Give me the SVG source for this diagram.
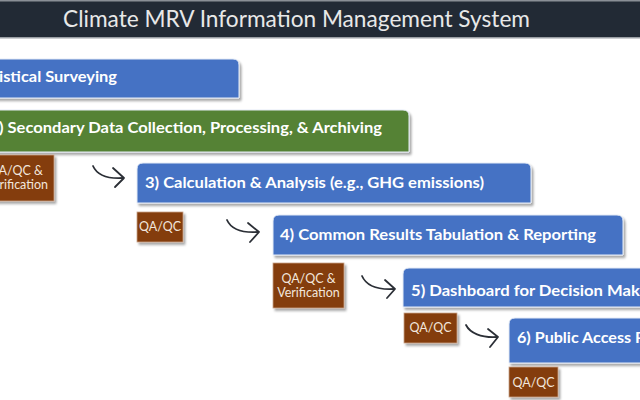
<svg xmlns="http://www.w3.org/2000/svg" width="640" height="400" viewBox="0 0 640 400">
  <defs>
    <filter id="sh" x="-5%" y="-20%" width="115%" height="160%">
      <feDropShadow dx="2" dy="2.5" stdDeviation="1.2" flood-color="#000" flood-opacity="0.35"/>
    </filter>
    <style>
      .step{stroke:#e6ecf6;stroke-width:1;filter:url(#sh)}
      .blue{fill:#4472C4}
      .green{fill:#548235}
      .qa{fill:#843C0C;stroke:#c9a38a;stroke-width:0.8;filter:url(#sh)}
      .st{font-family:Lato,"Liberation Sans",sans-serif;font-weight:bold;font-size:16px;fill:#ffffff}
      .qt{font-family:Lato,"Liberation Sans",sans-serif;font-size:12.5px;fill:#f2e6dc;text-anchor:middle}
      .title{font-family:Lato,"Liberation Sans",sans-serif;font-size:23px;fill:#e8e8e8}
      .arr{fill:none;stroke:#2b2f36;stroke-width:1.8;stroke-linecap:round;stroke-linejoin:round}
    </style>
  </defs>
  <rect x="0" y="0" width="640" height="400" fill="#ffffff"/>

  <g id="title">
    <rect x="0" y="0" width="640" height="38" fill="#222A35"/>
    <rect x="0" y="0" width="640" height="1.5" fill="#8a8f96"/>
    <rect x="0" y="37" width="640" height="1.5" fill="#9a9ea4"/>
    <text class="title" x="63" y="27" textLength="467" lengthAdjust="spacingAndGlyphs">Climate MRV Information Management System</text>
  </g>

  <g id="step1">
    <path class="step blue" d="M-10,59 H233 Q239,59 239,65 V98 H-10 Z"/>
    <text class="st" x="-1" y="82" textLength="118" lengthAdjust="spacingAndGlyphs">istical Surveying</text>
  </g>

  <g id="step2">
    <path class="step green" d="M-10,110 H403 Q409,110 409,116 V152 H-10 Z"/>
    <text class="st" x="-1" y="133" textLength="383" lengthAdjust="spacingAndGlyphs">) Secondary Data Collection, Processing, &amp; Archiving</text>
  </g>

  <g id="qa2">
    <rect class="qa" x="-20" y="155" width="74" height="46"/>
    <text class="qt" x="43" y="175" style="text-anchor:end">QA/QC &amp;</text>
    <text class="qt" x="48" y="189" style="text-anchor:end">rification</text>
  </g>

  <g id="step3">
    <path class="step blue" d="M137,169 Q137,163 143,163 H525 Q531,163 531,169 V203 H137 Z"/>
    <text class="st" x="145" y="188" textLength="339" lengthAdjust="spacingAndGlyphs">3) Calculation &amp; Analysis (e.g., GHG emissions)</text>
  </g>

  <g id="qa3">
    <rect class="qa" x="137" y="212" width="46" height="30"/>
    <text class="qt" x="160" y="231">QA/QC</text>
  </g>

  <g id="step4">
    <path class="step blue" d="M273,221 Q273,215 279,215 H617 Q623,215 623,221 V255 H273 Z"/>
    <text class="st" x="280" y="240" textLength="316" lengthAdjust="spacingAndGlyphs">4) Common Results Tabulation &amp; Reporting</text>
  </g>

  <g id="qa4">
    <rect class="qa" x="273" y="263" width="71" height="45"/>
    <text class="qt" x="308.5" y="283">QA/QC &amp;</text>
    <text class="qt" x="308.5" y="297">Verification</text>
  </g>

  <g id="step5">
    <path class="step blue" d="M403,274 Q403,268 409,268 H650 V307 H403 Z"/>
    <text class="st" x="411" y="296" textLength="233" lengthAdjust="spacingAndGlyphs">5) Dashboard for Decision Maki</text>
  </g>

  <g id="qa5">
    <rect class="qa" x="404" y="313" width="53" height="30"/>
    <text class="qt" x="430.5" y="332">QA/QC</text>
  </g>

  <g id="step6">
    <path class="step blue" d="M509,324 Q509,318 515,318 H650 V363 H509 Z"/>
    <text class="st" x="517" y="343" textLength="128" lengthAdjust="spacingAndGlyphs">6) Public Access P</text>
  </g>

  <g id="qa6">
    <rect class="qa" x="509" y="367" width="49" height="30"/>
    <text class="qt" x="533.5" y="387">QA/QC</text>
  </g>

  <g id="connectors">
    <path class="arr" d="M93,166 C97,175 107,179 123,178"/>
    <path class="arr" d="M113,168 L124,178 L115,187"/>
    <path class="arr" d="M227,220 C231,229 242,233 258,232"/>
    <path class="arr" d="M248,223 L259,232 L250,242"/>
    <path class="arr" d="M362,276 C366,285 377,290 394,289"/>
    <path class="arr" d="M385,280 L395,289 L387,298"/>
    <path class="arr" d="M466,325 C470,333 481,338 497,337"/>
    <path class="arr" d="M488,329 L498,337 L490,347"/>
  </g>
</svg>
